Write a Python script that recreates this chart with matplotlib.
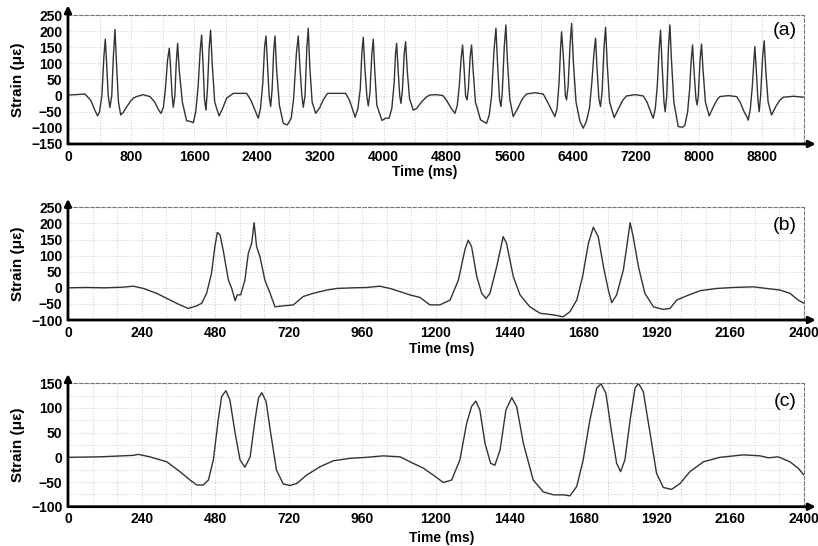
import matplotlib
matplotlib.use("Agg")
import matplotlib.pyplot as plt
from matplotlib.ticker import MultipleLocator

plt.rcParams['font.family'] = ['Liberation Sans', 'DejaVu Sans']

# ---------------- data ----------------
time_a = [0, 100, 215, 290, 340, 376, 400, 430, 455, 473, 490, 510, 532, 555, 575, 596, 615, 640, 668, 700,
          744, 790, 828, 870, 950, 1039, 1100, 1150, 1180, 1210, 1235, 1262, 1284, 1300, 1320, 1335, 1355, 1372,
          1390, 1410, 1450, 1504, 1550, 1589, 1620, 1650, 1676, 1694, 1712, 1730, 1749, 1768, 1790, 1808, 1828,
          1860, 1915, 1960, 2011, 2096, 2265, 2320, 2370, 2412, 2440, 2470, 2492, 2510, 2530, 2550, 2569, 2588,
          2608, 2624, 2645, 2680, 2729, 2780, 2830, 2860, 2895, 2919, 2940, 2965, 2983, 3005, 3028, 3046, 3065,
          3095, 3140, 3190, 3236, 3290, 3520, 3570, 3610, 3640, 3675, 3705, 3725, 3743, 3765, 3790, 3807, 3828,
          3852, 3870, 3888, 3915, 3980, 4030, 4070, 4105, 4135, 4152, 4166, 4185, 4205, 4221, 4240, 4262, 4280,
          4300, 4330, 4377, 4420, 4480, 4540, 4588, 4670, 4753, 4800, 4860, 4905, 4935, 4960, 4985, 5002, 5020,
          5040, 5058, 5075, 5098, 5116, 5135, 5165, 5230, 5306, 5340, 5370, 5400, 5425, 5445, 5470, 5488, 5505,
          5530, 5551, 5570, 5600, 5644, 5700, 5760, 5813, 5920, 6024, 6080, 6130, 6172, 6200, 6225, 6245, 6257,
          6280, 6305, 6320, 6340, 6365, 6384, 6405, 6440, 6490, 6531, 6570, 6610, 6640, 6670, 6688, 6705, 6730,
          6750, 6770, 6795, 6815, 6835, 6865, 6924, 6970, 7030, 7081, 7190, 7292, 7340, 7385, 7418, 7445, 7470,
          7495, 7512, 7530, 7555, 7570, 7590, 7612, 7630, 7650, 7680, 7735, 7790, 7820, 7855, 7880, 7900, 7917,
          7935, 7960, 7975, 7990, 8012, 8031, 8050, 8080, 8128, 8180, 8230, 8263, 8370, 8475, 8520, 8570, 8605,
          8623, 8650, 8675, 8695, 8707, 8725, 8745, 8762, 8780, 8805, 8825, 8845, 8875, 8918, 8970, 9020, 9066,
          9200, 9320]
strain_a = [2, 3, 5, -15, -45, -63, -50, 0, 120, 175, 100, 0, -37, 0, 120, 205, 100, -20, -60, -52,
            -35, -18, -8, -3, 3, -3, -20, -45, -55, -35, 20, 110, 147, 90, 0, -36, 0, 100,
            162, 80, -20, -78, -80, -84, -50, 30, 140, 188, 100, -10, -45, 20, 150, 203, 100,
            -20, -63, -40, -8, 7, 7, -15, -45, -70, -40, 40, 150, 185, 90, 0, -34, 20,
            140, 185, 80, -30, -86, -91, -70, -10, 130, 185, 90, 0, -36, 0, 150, 209, 90,
            -20, -55, -38, -13, 7, 7, -15, -45, -67, -40, 20, 130, 181, 80, -5, -32, 10,
            130, 175, 80, -30, -77, -70, -70, -40, 40, 130, 162, 80, 0, -24, 20, 130, 167,
            80, -10, -45, -40, -20, -5, 2, 3, 0, -15, -40, -55, -30, 30, 120, 157, 90,
            0, -13, 20, 120, 157, 80, -20, -75, -86, -60, 0, 140, 209, 100, -10, -34, 10,
            150, 219, 110, -10, -65, -40, -10, 5, 9, 5, -20, -45, -65, -40, 40, 150, 198,
            120, 0, -13, 30, 160, 224, 110, -20, -80, -101, -81, -40, 40, 140, 178, 90, -10,
            -34, 10, 150, 212, 100, -20, -68, -45, -15, -1, 3, -1, -20, -50, -70, -40, 30,
            150, 203, 100, -20, -50, 0, 150, 219, 110, -20, -96, -98, -92, -50, 20, 110, 157,
            80, -10, -29, 0, 110, 160, 80, -20, -63, -35, -12, -3, 0, -3, -20, -50, -65,
            -76, -40, 30, 110, 152, 80, -10, -50, 0, 120, 170, 80, -20, -60, -35, -15, -5,
            -2, -5]

time_b = [0, 60, 120, 180, 213, 246, 289, 333, 365, 392, 420, 436, 452, 468, 479, 487, 496, 507, 523, 534,
          545, 552, 563, 577, 588, 599, 607, 615, 626, 642, 659, 675, 702, 735, 767, 800, 844, 876, 930, 974,
          1017, 1050, 1083, 1115, 1148, 1180, 1213, 1246, 1273, 1294, 1305, 1316, 1333, 1349, 1363, 1376,
          1398, 1411, 1419, 1430, 1452, 1474, 1506, 1539, 1583, 1615, 1637, 1659, 1678, 1697, 1713, 1729,
          1746, 1762, 1773, 1789, 1811, 1822, 1833, 1843, 1860, 1881, 1909, 1941, 1963, 1985, 2017, 2061,
          2115, 2170, 2235, 2278, 2322, 2354, 2381, 2400]
strain_b = [0, 1, 0, 2, 5, -2, -17, -38, -53, -64, -56, -48, -17, 45, 128, 172, 164, 112, 24, -2,
            -40, -22, -22, 24, 107, 138, 202, 128, 97, 24, -17, -59, -56, -53, -27, -17, -7, -2, 0, 1,
            5, -2, -12, -22, -30, -53, -53, -38, 24, 117, 148, 128, 35, -17, -33, -17,
            66, 123, 159, 138, 35, -22, -59, -79, -84, -90, -74, -38, 35, 138, 188, 159,
            66, -7, -46, -22, 56, 128, 202, 159, 66, -17, -59, -67, -64, -38, -25, -9,
            -2, 1, 3, -2, -7, -17, -38, -48]

time_c = [0, 104, 213, 229, 267, 322, 365, 398, 420, 441, 458, 474, 490, 501, 515, 528, 545, 561, 577, 594,
          610, 621, 632, 646, 661, 680, 702, 724, 746, 778, 822, 865, 920, 974, 1028, 1083, 1115, 1159, 1191,
          1224, 1251, 1278, 1300, 1316, 1330, 1343, 1360, 1378, 1392, 1409, 1428, 1447, 1463, 1485, 1517,
          1550, 1583, 1615, 1637, 1659, 1680, 1702, 1724, 1738, 1754, 1773, 1789, 1802, 1816, 1833, 1849,
          1860, 1876, 1898, 1919, 1941, 1968, 1996, 2028, 2072, 2126, 2202, 2257, 2284, 2316, 2354, 2381, 2400]
strain_c = [0, 1, 4, 6, 1, -9, -29, -46, -56, -56, -46, -5, 76, 123, 135, 116, 49, -5, -20, 1,
            76, 120, 131, 113, 49, -26, -54, -57, -53, -36, -19, -7, -2, 0, 3, 1, -9, -22, -36,
            -51, -46, -5, 69, 103, 114, 96, 28, -12, -16, 15, 96, 121, 103, 28, -46,
            -70, -76, -76, -78, -59, -5, 76, 140, 149, 130, 49, -12, -29, -5, 76, 140,
            150, 133, 49, -32, -61, -65, -53, -29, -9, 0, 5, 3, -1, 1, -9, -22, -36]

xticks_a = list(range(0, 8801, 800))
xticks_bc = list(range(0, 2401, 240))

panels = [
    dict(t=time_a, s=strain_a, rect=[0.0831, 0.7363, 0.8998, 0.2362], xlim=(0, 9330), ylim=(-150, 250),
         xticks=xticks_a, yticks=list(range(-150, 251, 50)), xminor=400, yminor=50, tag='(a)', tagy=0.88,
         xlab=(0.485, -0.165)),
    dict(t=time_b, s=strain_b, rect=[0.0831, 0.4139, 0.8998, 0.2064], xlim=(0, 2400), ylim=(-100, 250),
         xticks=xticks_bc, yticks=list(range(-100, 251, 50)), xminor=80, yminor=50, tag='(b)', tagy=0.84,
         xlab=(0.508, -0.195)),
    dict(t=time_c, s=strain_c, rect=[0.0831, 0.0720, 0.8998, 0.2260], xlim=(0, 2400), ylim=(-100, 150),
         xticks=xticks_bc, yticks=list(range(-100, 151, 50)), xminor=80, yminor=25, tag='(c)', tagy=0.85,
         xlab=(0.508, -0.197)),
]

fig = plt.figure(figsize=(8.18, 5.46), dpi=100)
for p in panels:
    ax = fig.add_axes(p['rect'])
    ax.plot(p['t'], p['s'], color='#333333', lw=1.0)
    ax.set_xlim(*p['xlim'])
    ax.set_ylim(*p['ylim'])
    ax.set_xticks(p['xticks'])
    ax.set_yticks(p['yticks'])
    ax.xaxis.set_minor_locator(MultipleLocator(p['xminor']))
    ax.yaxis.set_minor_locator(MultipleLocator(p['yminor']))
    ax.grid(True, which='both', color='#c8c8c8', linestyle=(0, (1, 2)), lw=0.7)
    ax.set_axisbelow(True)
    ax.tick_params(which='both', length=0, pad=4, labelsize=10)
    for lab in ax.get_xticklabels() + ax.get_yticklabels():
        lab.set_fontweight('bold')
    for side in ('top', 'right'):
        ax.spines[side].set_linestyle((0, (3, 2)))
        ax.spines[side].set_color('#777777')
        ax.spines[side].set_linewidth(0.8)
    for side in ('left', 'bottom'):
        ax.spines[side].set_visible(False)
    ax.annotate('', xy=(1.016, 0), xytext=(0, 0), xycoords='axes fraction',
                arrowprops=dict(arrowstyle='-|>', color='black', lw=2, mutation_scale=10,
                                shrinkA=0, shrinkB=0), annotation_clip=False)
    ax.annotate('', xy=(0, 1.075), xytext=(0, 0), xycoords='axes fraction',
                arrowprops=dict(arrowstyle='-|>', color='black', lw=2, mutation_scale=10,
                                shrinkA=0, shrinkB=0), annotation_clip=False)
    ax.set_xlabel('Time (ms)', fontsize=10, fontweight='bold')
    ax.xaxis.set_label_coords(*p['xlab'])
    ax.set_ylabel('Strain (με)', fontsize=11, fontweight='bold')
    ax.yaxis.set_label_coords(-0.058, 0.5)
    ax.text(0.974, p['tagy'], p['tag'], transform=ax.transAxes, fontsize=14,
            ha='center', va='center')

fig.savefig('out.png', dpi=100)
